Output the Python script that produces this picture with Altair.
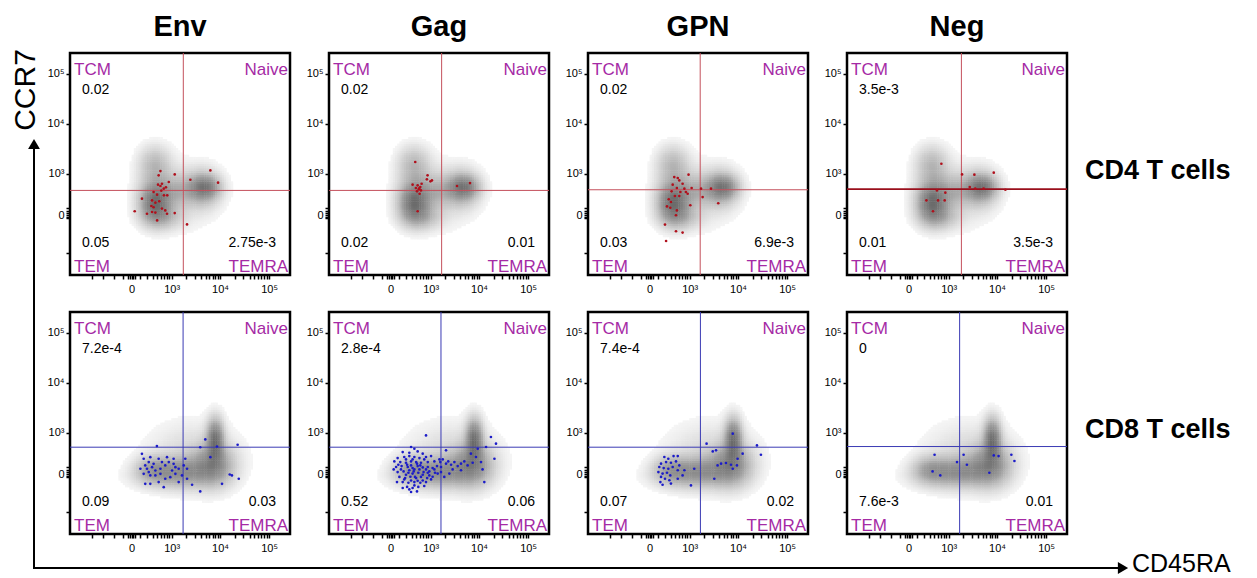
import altair as alt
import numpy as np
import pandas as pd

FONT = "Liberation Sans"

stimuli = ["Env", "Gag", "GPN", "Neg"]
subsets = ["CD4 T cells", "CD8 T cells"]
quadrant_names = ["TCM", "Naive", "TEM", "TEMRA"]

tcm_freq = [["0.02", "0.02", "0.02", "3.5e-3"], ["7.2e-4", "2.8e-4", "7.4e-4", "0"]]
tem_freq = [["0.05", "0.02", "0.03", "0.01"], ["0.09", "0.52", "0.07", "7.6e-3"]]
temra_freq = [["2.75e-3", "0.01", "6.9e-3", "3.5e-3"], ["0.03", "0.06", "0.02", "0.01"]]

# quadrant gates (display channels 0-1000)
gate_cd45ra = [[515, 512, 510, 520], [514, 509, 511, 512]]
gate_ccr7 = [[381, 381, 384, 387], [391, 391, 391, 394]]

# axis ticks (display channels)
x_major = [280, 462, 682, 905]
y_major = [270, 455, 682, 907]
major_labels = ["0", "10³", "10⁴", "10⁵"]
x_minor = [100, 150, 200, 240, 262, 272, 288, 296, 320, 350, 375, 395, 412, 428, 440, 452,
           528, 567, 594, 616, 633, 648, 661, 672, 749, 788, 816, 838, 855, 870, 883, 895]
y_minor = [100, 255, 262, 280, 290, 300]

# background population density (components)
cd4_blob_cx = [385, 615, 395, 605, 385, 500, 420, 500]
cd4_blob_cy = [320, 395, 350, 390, 500, 380, 260, 360]
cd4_blob_sx = [40, 42, 50, 48, 46, 58, 58, 110]
cd4_blob_sy = [50, 32, 68, 52, 52, 48, 33, 95]
cd4_blob_w = [0.6, 0.55, 0.45, 0.4, 0.3, 0.25, 0.25, 0.1]

cd8_blob_cx = [660, 650, 500, 375, 560, 470]
cd8_blob_cy = [425, 310, 285, 290, 350, 260]
cd8_blob_sx = [24, 58, 88, 48, 130, 115]
cd8_blob_sy = [58, 58, 40, 38, 95, 38]
cd8_blob_w = [0.8, 0.55, 0.4, 0.3, 0.12, 0.15]

# antigen-specific events (display channels)
env_cd4_x = [411, 476, 403, 418, 411, 426, 415, 436, 400, 380, 396, 427, 442, 327, 373, 388, 406, 380, 418, 433,
             294, 373, 388, 350, 441, 476, 396, 532, 547, 638, 673, 370, 449]
env_cd4_y = [468, 453, 449, 411, 401, 389, 380, 395, 407, 374, 362, 359, 359, 344, 336, 326, 332, 305, 299, 291,
             287, 284, 281, 276, 276, 279, 246, 228, 429, 471, 416, 311, 419]
gag_cd4_x = [392, 448, 445, 461, 468, 380, 403, 415, 408, 400, 418, 412, 395, 421, 403, 582, 641, 410]
gag_cd4_y = [509, 449, 431, 422, 426, 407, 404, 396, 386, 377, 381, 366, 392, 411, 287, 401, 414, 390]
gpn_cd4_x = [392, 408, 415, 457, 430, 385, 404, 438, 471, 514, 559, 380, 420, 395, 415, 453, 521, 367, 377, 359,
             374, 404, 400, 465, 592, 350, 400, 430, 355, 445]
gpn_cd4_y = [441, 437, 426, 452, 411, 407, 392, 389, 392, 389, 389, 377, 374, 356, 356, 366, 351, 341, 329, 309,
             303, 291, 269, 314, 323, 227, 197, 191, 153, 374]
neg_cd4_x = [429, 523, 579, 667, 558, 447, 409, 361, 414, 444, 391, 720, 583, 621]
neg_cd4_y = [501, 453, 452, 461, 396, 371, 381, 336, 336, 336, 287, 384, 389, 389]

env_cd8_x = [395, 327, 335, 365, 403, 358, 342, 320, 373, 388, 411, 433, 449, 471, 479, 464, 494, 517, 524, 532,
             509, 479, 358, 335, 388, 411, 433, 456, 403, 365, 342, 426, 494, 532, 471, 441, 418, 380, 350, 365,
             615, 668, 638, 592, 691, 726, 736, 767, 555, 592, 762]
env_cd8_y = [396, 361, 339, 346, 339, 324, 309, 294, 301, 286, 294, 309, 324, 316, 301, 286, 294, 309, 339, 294,
             264, 271, 279, 271, 264, 271, 249, 256, 234, 226, 226, 211, 234, 249, 339, 346, 324, 316, 294, 264,
             426, 394, 346, 391, 226, 268, 264, 249, 222, 192, 402]
gag_cd8_x = [373, 388, 335, 365, 403, 426, 312, 342, 365, 388, 411, 441, 464, 297, 324, 350, 373, 396, 418, 449,
             479, 305, 330, 358, 380, 403, 426, 449, 471, 491, 312, 339, 361, 385, 406, 430, 456, 482, 320, 346,
             370, 396, 418, 446, 471, 335, 361, 388, 415, 441, 355, 380, 406, 433, 373, 400,
             373, 388, 400, 365, 411, 380, 391,
             350, 380, 433, 327, 350, 426, 456, 342, 373, 403, 426, 315, 441, 464, 479, 355, 415, 449, 388, 365,
             335, 309, 294, 494, 502,
             517, 532, 542, 555, 570, 585, 600, 615, 630, 653, 562, 600, 509, 524, 547, 668, 691, 645, 676, 714,
             736, 759, 752, 698, 706, 441, 532, 509, 506]
gag_cd8_y = [392, 384, 369, 366, 372, 362, 342, 347, 351, 347, 342, 347, 351, 327, 324, 321, 327, 324, 321, 324,
             327, 302, 306, 302, 297, 306, 300, 302, 297, 306, 279, 282, 276, 282, 276, 279, 282, 276, 257, 252,
             258, 252, 257, 252, 258, 234, 231, 234, 231, 234, 212, 207, 212, 216, 189, 192,
             309, 291, 317, 287, 291, 272, 257,
             336, 336, 336, 291, 267, 267, 264, 246, 241, 240, 241, 312, 291, 246, 291, 312, 309, 276, 219, 201,
             207, 234, 291, 272, 336,
             336, 317, 327, 312, 324, 306, 317, 327, 309, 321, 291, 287, 279, 257, 272, 347, 324, 362, 384, 392,
             437, 407, 339, 291, 234, 444, 377, 302, 324]
gpn_cd8_x = [347, 365, 389, 408, 332, 355, 377, 400, 415, 324, 344, 365, 385, 408, 438, 320, 339, 359, 374, 332,
             350, 370, 339, 329, 408, 468, 483, 430, 377,
             539, 567, 582, 658, 703, 589, 605, 627, 650, 658, 677, 680, 574, 768, 786]
gpn_cd8_y = [347, 339, 351, 351, 317, 324, 321, 327, 309, 302, 297, 294, 302, 287, 287, 279, 272, 276, 264, 257,
             249, 242, 222, 234, 249, 219, 294, 264, 227,
             407, 372, 377, 452, 362, 309, 317, 320, 312, 294, 309, 339, 249, 399, 357]
neg_cd8_x = [398, 389, 424, 500, 530, 545, 647, 667, 689, 747, 761]
neg_cd8_y = [357, 282, 264, 324, 357, 312, 276, 354, 351, 357, 329]

events_x = [[env_cd4_x, gag_cd4_x, gpn_cd4_x, neg_cd4_x], [env_cd8_x, gag_cd8_x, gpn_cd8_x, neg_cd8_x]]
events_y = [[env_cd4_y, gag_cd4_y, gpn_cd4_y, neg_cd4_y], [env_cd8_y, gag_cd8_y, gpn_cd8_y, neg_cd8_y]]

PW, PH = 220, 222
MAGENTA = "#a52aa5"
DOT_COLORS = ["#b0101c", "#1c1cc8"]
GATE_COLORS = ["#c4505c", "#3a3ab4"]


def density_table(cx, cy, sx, sy, w):
    gx = np.arange(160, 880, 10) + 5.0
    gy = np.arange(80, 720, 10) + 5.0
    X, Y = np.meshgrid(gx, gy)
    D = np.zeros_like(X)
    for a, b, s, t, k in zip(cx, cy, sx, sy, w):
        D += k * np.exp(-0.5 * (((X - a) / s) ** 2 + ((Y - b) / t) ** 2))
    D /= D.max()
    m = D > 0.02
    return pd.DataFrame({"x0": X[m] - 5, "x1": X[m] + 7, "y0": Y[m] - 5, "y1": Y[m] + 7, "v": D[m]})


dens_tables = [density_table(cd4_blob_cx, cd4_blob_cy, cd4_blob_sx, cd4_blob_sy, cd4_blob_w),
               density_table(cd8_blob_cx, cd8_blob_cy, cd8_blob_sx, cd8_blob_sy, cd8_blob_w)]


def label_expr(vals, labs):
    expr = "''"
    for v, l in reversed(list(zip(vals, labs))):
        expr = f"datum.value == {v} ? '{l}' : " + expr
    return expr


xsc = alt.Scale(domain=[0, 1000], nice=False, zero=False)
ysc = alt.Scale(domain=[0, 1000], nice=False, zero=False)
axis_common = dict(title=None, domain=False, grid=False, ticks=True, tickSize=4, tickWidth=1.5,
                   tickColor="black", labelFont=FONT, labelFontSize=11, labelColor="black",
                   labelOverlap=False, labelFlush=False)
xax = alt.Axis(values=sorted(x_major + x_minor), labelExpr=label_expr(x_major, major_labels),
               labelPadding=4, **axis_common)
yax = alt.Axis(values=sorted(y_major + y_minor), labelExpr=label_expr(y_major, major_labels),
               labelPadding=2, **axis_common)


def X(f):
    return alt.X(f, type="quantitative", scale=xsc, axis=xax)


def Y(f):
    return alt.Y(f, type="quantitative", scale=ysc, axis=yax)


def txt(s, x, y, size=14, color="black", align="left", weight="normal", baseline="alphabetic", angle=None):
    kw = dict(align=align, baseline=baseline, fontSize=size, fontWeight=weight, color=color, font=FONT)
    if angle is not None:
        kw["angle"] = angle
    return alt.Chart(pd.DataFrame({"t": [s]})).mark_text(**kw).encode(
        x=alt.value(x), y=alt.value(y), text="t:N")


one = pd.DataFrame({"k": [0]})


def panel(r, c):
    dens = alt.Chart(dens_tables[r]).mark_rect(strokeWidth=0).encode(
        x=X("x0"), x2="x1", y=Y("y0"), y2="y1",
        color=alt.Color("v:Q", legend=None,
                        scale=alt.Scale(domain=[0.02, 0.07, 0.16, 0.45, 1.0],
                                        range=["#f5f5f5", "#e4e4e4", "#d0d0d0", "#a0a0a0", "#6a6a6a"],
                                        clamp=True)))
    hw = 1.6 if (r == 0 and c == 3) else 1.0
    hcol = "#9a0f1c" if (r == 0 and c == 3) else GATE_COLORS[r]
    vline = alt.Chart(pd.DataFrame({"g": [gate_cd45ra[r][c]]})).mark_rule(
        color=GATE_COLORS[r], strokeWidth=1).encode(x=X("g"))
    hline = alt.Chart(pd.DataFrame({"g": [gate_ccr7[r][c]]})).mark_rule(
        color=hcol, strokeWidth=hw).encode(y=Y("g"))
    dots = alt.Chart(pd.DataFrame({"x": events_x[r][c], "y": events_y[r][c]})).mark_circle(
        size=7, color=DOT_COLORS[r], opacity=1).encode(x=X("x"), y=Y("y"))
    layers = [dens, vline, hline, dots,
              txt(quadrant_names[0], 4, 22, size=17, color=MAGENTA),
              txt(quadrant_names[1], 218, 22, size=17, color=MAGENTA, align="right"),
              txt(quadrant_names[2], 4, 219, size=17, color=MAGENTA),
              txt(quadrant_names[3], 218, 219, size=17, color=MAGENTA, align="right"),
              txt(tcm_freq[r][c], 12, 41),
              txt(tem_freq[r][c], 12, 194),
              txt(temra_freq[r][c], 206, 194, align="right")]
    if r == 0:
        layers.append(txt(stimuli[c], 110, -17, size=29, weight="bold", align="center"))
    if c == 3:
        layers.append(txt(subsets[r], 238, 126, size=27, weight="bold"))
    if r == 0 and c == 0:
        layers.append(alt.Chart(one).mark_rule(opacity=0, strokeWidth=1).encode(
            x=alt.value(-60), x2=alt.value(-59), y=alt.value(-43)))
    if r == 1 and c == 0:
        layers += [
            alt.Chart(one).mark_rule(color="black", strokeWidth=2).encode(
                x=alt.value(-36), x2=alt.value(1050), y=alt.value(256)),
            alt.Chart(one).mark_rule(color="black", strokeWidth=2).encode(
                x=alt.value(-36), y=alt.value(257), y2=alt.value(-165)),
            alt.Chart(one).mark_point(shape="triangle-up", size=140, filled=True, color="black", opacity=1).encode(
                x=alt.value(-36), y=alt.value(-168)),
            alt.Chart(one).mark_point(shape="triangle-right", size=140, filled=True, color="black", opacity=1).encode(
                x=alt.value(1053), y=alt.value(256)),
            txt("CCR7", -44, -222, size=30, align="center", baseline="middle", angle=270),
            txt("CD45RA", 1062, 260, size=25),
        ]
    return alt.layer(*layers).properties(width=PW, height=PH)


panels = [panel(r, c) for r in range(2) for c in range(4)]

chart = alt.concat(*panels, columns=4, spacing={"row": 37, "column": 39}, bounds="flush",
                   padding=0, background="white").configure_view(stroke="black", strokeWidth=2.5)

chart.save("out.html", embed_options={"renderer": "svg", "actions": False})
